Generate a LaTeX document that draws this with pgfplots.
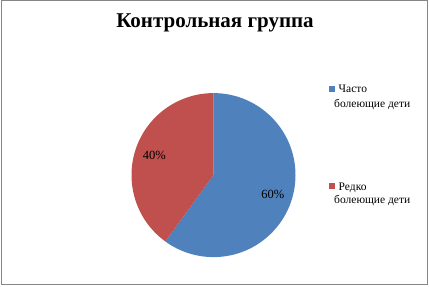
\documentclass[border=0pt]{standalone}
\usepackage{pgfplots}
\pgfplotsset{compat=1.18}
\usepackage{fontspec}
\setmainfont{Liberation Serif}
\definecolor{pieblue}{HTML}{4F81BD}
\definecolor{piered}{HTML}{C0504D}
\definecolor{frame}{HTML}{868686}
\begin{document}
\begin{tikzpicture}
\path (0pt,0pt) rectangle (429pt,286pt);
\draw[frame, line width=1.4pt] (1.3pt,1.8pt) rectangle (427.3pt,285.4pt);
\node[font=\fontsize{21}{25}\selectfont\bfseries] at (215pt,263.5pt) {Контрольная группа};
\begin{axis}[at={(213.5pt,111pt)}, anchor=center, hide axis, scale only axis,
  width=164pt, height=164pt, xmin=-1, xmax=1, ymin=-1, ymax=1, clip=false]
\def\vA{60}\def\vB{40}
\pgfmathsetmacro\angA{90-3.6*\vA}
\pgfmathsetmacro\angB{\angA-3.6*\vB}
\pgfmathsetmacro\midA{90-1.8*\vA}
\pgfmathsetmacro\midB{\angA-1.8*\vB}
\pgfmathsetmacro\bx{cos(\angA)}
\pgfmathsetmacro\by{sin(\angA)}
\pgfmathsetmacro\lax{0.76*cos(\midA)}
\pgfmathsetmacro\lay{0.76*sin(\midA)}
\pgfmathsetmacro\lbx{0.76*cos(\midB)}
\pgfmathsetmacro\lby{0.76*sin(\midB)}
\fill[pieblue] (axis cs:0,0) -- (axis cs:0,1) arc[start angle=90, end angle=\angA, radius=82pt] -- cycle;
\fill[piered] (axis cs:0,0) -- (axis cs:\bx,\by) arc[start angle=\angA, end angle=\angB, radius=82pt] -- cycle;
\node[font=\fontsize{12.5}{14}\selectfont] at (axis cs:\lax,\lay) {60\%};
\node[font=\fontsize{12.5}{14}\selectfont] at (axis cs:\lbx,\lby) {40\%};
\end{axis}
\fill[pieblue] (329pt,194.5pt) rectangle (334.5pt,200pt);
\node[anchor=base west, inner sep=0, font=\fontsize{11.5}{13}\selectfont] at (338.5pt,193.3pt) {Часто};
\node[anchor=base west, inner sep=0, font=\fontsize{11.5}{13}\selectfont] at (334pt,178.7pt) {болеющие дети};
\fill[piered] (329pt,97.5pt) rectangle (334.5pt,103pt);
\node[anchor=base west, inner sep=0, font=\fontsize{11.5}{13}\selectfont] at (338.5pt,95.3pt) {Редко};
\node[anchor=base west, inner sep=0, font=\fontsize{11.5}{13}\selectfont] at (334pt,82.7pt) {болеющие дети};
\end{tikzpicture}
\end{document}
